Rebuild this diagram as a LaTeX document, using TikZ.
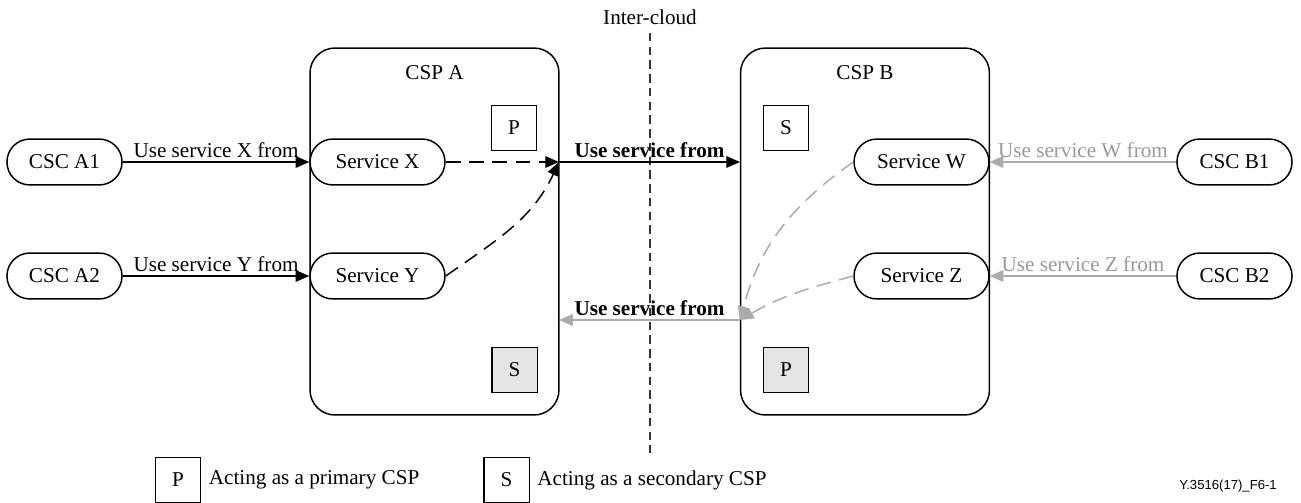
\documentclass[tikz,border=0pt]{standalone}
\usepackage{fontspec}
\setmainfont{Liberation Serif}
\setsansfont{Liberation Sans}
\usetikzlibrary{arrows.meta,positioning}

\tikzset{
  svc/.style={draw, line width=0.7pt, rounded corners=10.8pt, minimum height=21.7pt, minimum width=54.4pt, inner sep=2pt},
  svcwide/.style={svc, minimum width=63.8pt},
  cspbox/.style={draw, line width=0.7pt, rounded corners=11.8pt, minimum width=117.7pt, minimum height=173.5pt},
  role/.style={draw, line width=0.7pt, minimum size=21.5pt, inner sep=0pt},
  arrowlbl/.style={above, inner sep=1.5pt},
  use/.style={-{Triangle[length=6.5pt,width=5.5pt]}, line width=0.7pt},
  fade/.style={draw=black!33, text=black!40},
  dash line/.style={dash pattern=on 7pt off 4pt},
}

\begin{document}
\begin{tikzpicture}[x=0.4728pt, y=0.4728pt]
    \useasboundingbox (0,0) rectangle (1301,502);

    % Inter-cloud border
    \node (border) at (650,485) {Inter-cloud};
    \draw[black!80, line width=0.7pt, dash pattern=on 4pt off 2.5pt] (650,469) -- (650,49);

    % Providers
    \node[cspbox] (cspA) at (434.5,270.5) {};
    \node[cspbox] (cspB) at (865,270.5) {};
    \node (labA) at (434.5,429) {CSP A};
    \node (labB) at (865,429) {CSP B};

    % Roles
    \node[role] (roleAP) at (514,374) {P};
    \node[role, fill=black!10] (roleAS) at (514.5,132) {S};
    \node[role] (roleBS) at (786,374) {S};
    \node[role, fill=black!10] (roleBP) at (786,132) {P};

    % Customers and services
    \node[svc] (cscA1) at (64.5,340) {CSC A1};
    \node[svc] (cscA2) at (64.5,226) {CSC A2};
    \node[svcwide] (svcX) at (377.5,340) {Service X};
    \node[svcwide] (svcY) at (377.5,226) {Service Y};
    \node[svcwide] (svcW) at (921.5,340) {Service W};
    \node[svcwide] (svcZ) at (921.5,226) {Service Z};
    \node[svc] (cscB1) at (1234.5,340) {CSC B1};
    \node[svc] (cscB2) at (1234.5,226) {CSC B2};

    % Meeting points on the provider borders
    \coordinate (inA) at (559,340);
    \coordinate (inB) at (740,340);
    \coordinate (retB) at (740,182);
    \coordinate (retA) at (559,182);

    % CSP A side
    \draw[use] (cscA1) -- (svcX) node[midway, arrowlbl] {Use service X from};
    \draw[use] (cscA2) -- (svcY) node[midway, arrowlbl] {Use service Y from};
    \draw[use, dash line] (svcX) -- (inA);
    \draw[use, dash line] (svcY.east) to[out=35, in=245] (inA);
    \draw[use] (inA) -- (inB) node[midway, arrowlbl, font=\bfseries] {Use service from};

    % CSP B side
    \draw[use, fade] (cscB1) -- (svcW) node[midway, arrowlbl] {Use service W from};
    \draw[use, fade] (cscB2) -- (svcZ) node[midway, arrowlbl] {Use service Z from};
    \draw[use, fade, dash line] (svcW.west) to[out=215, in=75] (retB);
    \draw[use, fade, dash line] (svcZ.west) to[out=195, in=30] (retB);
    \draw[use, fade] (retB) -- (retA) node[midway, arrowlbl, text=black, font=\bfseries] {Use service from};

    % Legend
    \node[role] (legP) at (178,22) {P};
    \node[right=0pt of legP] (legPtxt) {Acting as a primary CSP};
    \node[role] (legS) at (506.5,22) {S};
    \node[right=0pt of legS] (legStxt) {Acting as a secondary CSP};

    \node[font=\sffamily\fontsize{6.2}{7}\selectfont] (figid) at (1228,16) {Y.3516(17)\_F6-1};
\end{tikzpicture}
\end{document}
